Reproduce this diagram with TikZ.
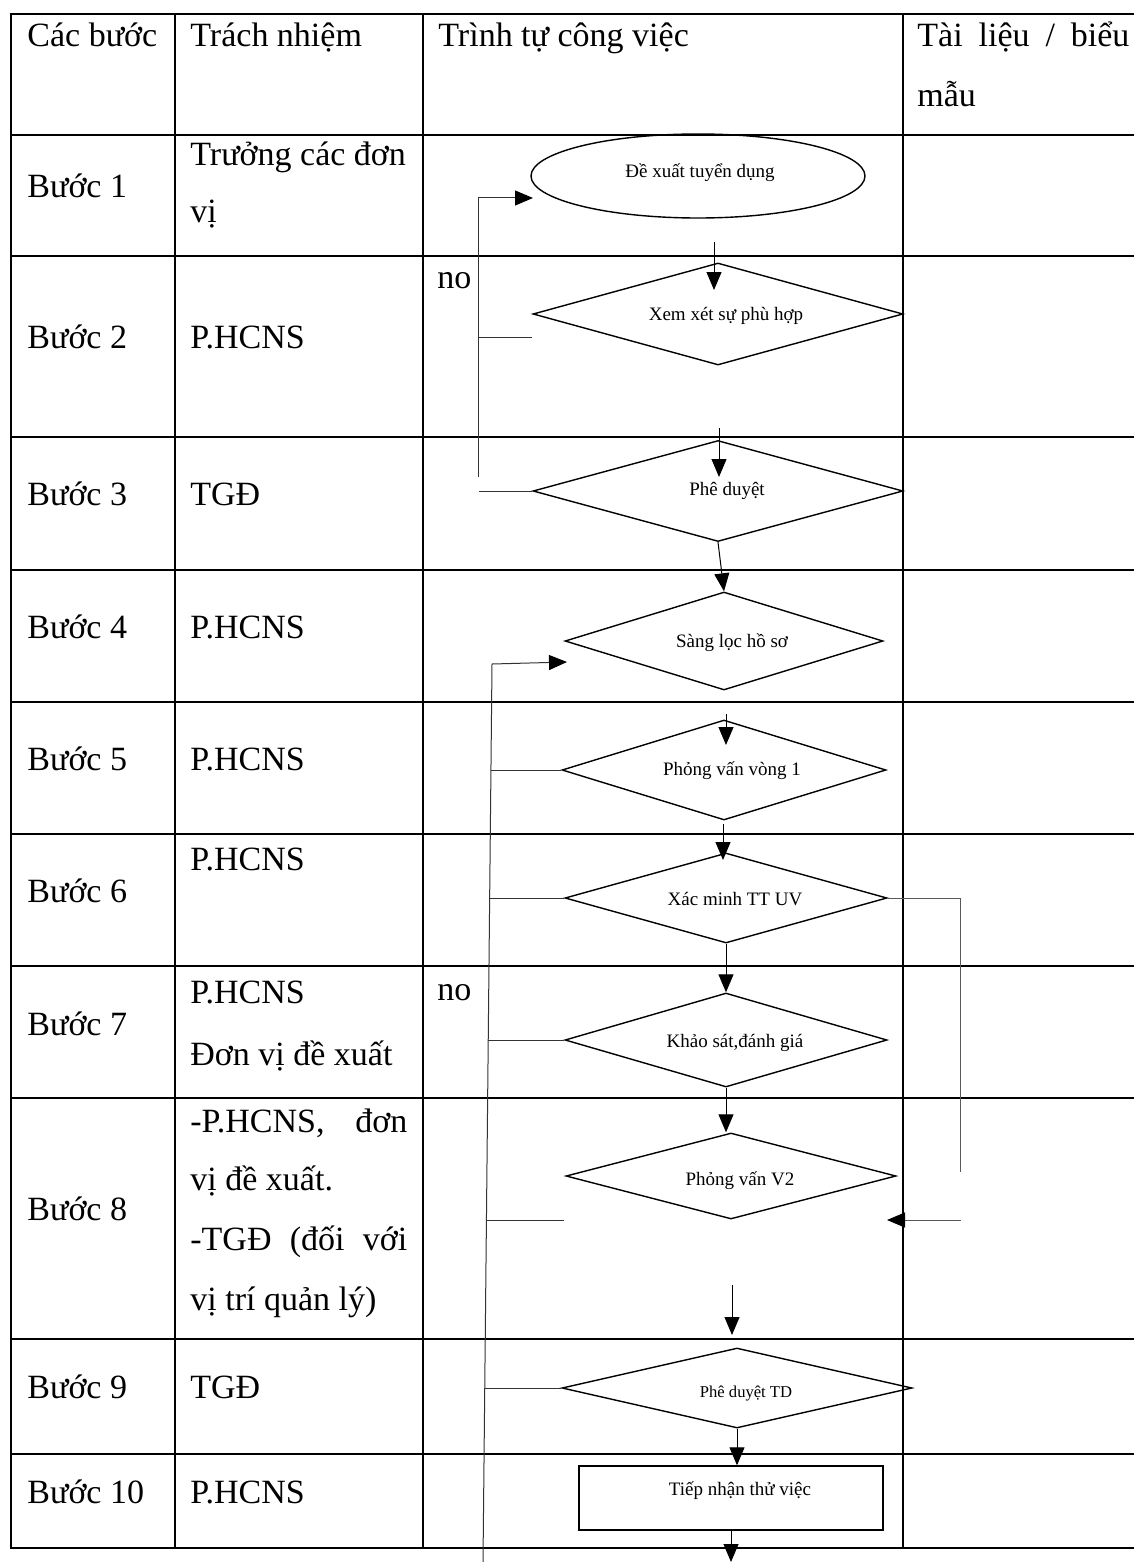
\documentclass[tikz,border=0pt]{standalone}
\usepackage{fontspec}
\setmainfont{Liberation Serif}
\usetikzlibrary{shapes.geometric,arrows.meta}
\begin{document}
\begin{tikzpicture}[x=0.5pt,y=-0.5pt,
  gridline/.style={line width=0.9pt, line cap=rect},
  shapeline/.style={draw, line width=0.7pt},
  dia/.style={shapeline, diamond, inner sep=0pt, aspect=1},
  conn/.style={line width=0.5pt, black!80},
  arr/.style={conn, -{Triangle[length=9pt,width=7.5pt,color=black]}},
  maintext/.style={font=\fontsize{17pt}{20pt}\selectfont, inner sep=0pt, anchor=base west},
  flowtext/.style={font=\fontsize{9.5pt}{11pt}\selectfont, inner sep=0pt, anchor=base},
  smallflow/.style={font=\fontsize{8.3pt}{10pt}\selectfont, inner sep=0pt, anchor=base},
]
\useasboundingbox (0,0) rectangle (1134,1562);
\fill[white] (0,0) rectangle (1134,1562);

% table grid
\foreach \yy in {14,135,256,437,570,702,834,966,1098,1339,1454,1548}
  \draw[gridline] (11,\yy) -- (1140,\yy);
\foreach \xx in {11,175,423,903}
  \draw[gridline] (\xx,14) -- (\xx,1548);

% header
\node[maintext] (h1) at (27,47) {Các bước};
\node[maintext] (h2) at (190,47) {Trách nhiệm};
\node[maintext] (h3) at (438,47) {Trình tự công việc};
\node[maintext] (h4) at (917,47) {\makebox[106pt][s]{Tài liệu / biểu}};
\node[maintext] (h4b) at (917,107) {mẫu};

% steps
\foreach \n/\yy in {1/198,2/348,3/505,4/638,5/770,6/902,7/1035,8/1220,9/1398,10/1503}
  \node[maintext] (s\n) at (27,\yy) {Bước \n};

% responsibilities
\node[maintext] (r1a) at (190,166) {Trưởng các đơn};
\node[maintext] (r1b) at (190,222) {vị};
\node[maintext] (r2) at (190,348) {P.HCNS};
\node[maintext] (r3) at (190,505) {TGĐ};
\node[maintext] (r4) at (190,638) {P.HCNS};
\node[maintext] (r5) at (190,770) {P.HCNS};
\node[maintext] (r6) at (190,870) {P.HCNS};
\node[maintext] (r7a) at (190,1003) {P.HCNS};
\node[maintext] (r7b) at (190,1065) {Đơn vị đề xuất};
\node[maintext] (r8a) at (190,1132) {\makebox[108.5pt][s]{-P.HCNS, đơn}};
\node[maintext] (r8b) at (190,1190) {vị đề xuất.};
\node[maintext] (r8c) at (190,1250) {\makebox[108.5pt][s]{-TGĐ (đối với}};
\node[maintext] (r8d) at (190,1310) {vị trí quản lý)};
\node[maintext] (r9) at (190,1398) {TGĐ};
\node[maintext] (r10) at (190,1503) {P.HCNS};

\node[maintext] (no1) at (437,288) {no};
\node[maintext] (no2) at (437,1000) {no};

% flow shapes
\node[shapeline, ellipse, inner sep=0pt, minimum width=167pt, minimum height=42pt] (e1) at (698,176) {};
\node[flowtext] (t1) at (700,178) {Đề xuất tuyển dụng};

\node[dia, minimum width=185pt, minimum height=51pt] (d2) at (718,314) {};
\node[flowtext] (t2) at (726,320) {Xem xét sự phù hợp};
\node[dia, minimum width=185pt, minimum height=50.5pt] (d3) at (718,491) {};
\node[flowtext] (t3) at (727,495) {Phê duyệt};
\node[dia, minimum width=159pt, minimum height=49pt] (d4) at (724,641) {};
\node[flowtext] (t4) at (732,647) {Sàng lọc hồ sơ};
\node[dia, minimum width=162pt, minimum height=50pt] (d5) at (724,770) {};
\node[flowtext] (t5) at (732,775) {Phỏng vấn vòng 1};
\node[dia, minimum width=161pt, minimum height=45pt] (d6) at (726,898) {};
\node[flowtext] (t6) at (735,905) {Xác minh TT UV};
\node[dia, minimum width=161pt, minimum height=47pt] (d7) at (726,1040) {};
\node[flowtext] (t7) at (735,1047) {Khảo sát,đánh giá};
\node[dia, minimum width=165pt, minimum height=43pt] (d8) at (731,1176) {};
\node[flowtext] (t8) at (740,1185) {Phỏng vấn V2};
\node[dia, minimum width=175pt, minimum height=40pt] (d9) at (737,1388) {};
\node[smallflow] (t9) at (746,1397) {Phê duyệt TD};
\node[shapeline, rectangle, inner sep=0pt, minimum width=152pt, minimum height=32pt] (rc) at (731,1498) {};
\node[flowtext] (t10) at (740,1495) {Tiếp nhận thử việc};

% coordinates for free connector ends
\coordinate (a1s) at (714,242); \coordinate (a1e) at (714,290);
\coordinate (a2s) at (719,428); \coordinate (a2e) at (719,477);
\coordinate (a4s) at (726,714); \coordinate (a4e) at (726,745);
\coordinate (a5s) at (723,824); \coordinate (a5e) at (723,860);
\coordinate (a8s) at (732,1285); \coordinate (a8e) at (732,1335);
\coordinate (a10e) at (731,1562);

% main flow arrows
\draw[arr, black] (a1s) -- (a1e);
\draw[arr, black] (a2s) -- (a2e);
\draw[arr, black] (d3.south) -- (d4.north);
\draw[arr, black] (a4s) -- (a4e);
\draw[arr, black] (a5s) -- (a5e);
\draw[arr, black] (d6.south) -- (d7.north);
\draw[arr, black] (d7.south) -- (d7.south |- d8.north);
\draw[arr, black] (a8s) -- (a8e);
\draw[arr, black] (d9.south) -- (d9.south |- rc.north);
\draw[arr, black] (rc.south) -- (rc.south |- a10e);

% loop 1 (top "no")
\coordinate (l1bot) at (478,477);
\coordinate (l1tip) at (533,198);
\coordinate (l1c) at (478,337); \coordinate (l1ce) at (532,337);
\coordinate (l1d) at (479,491);
\draw[arr] (l1bot) |- (l1tip);
\draw[conn] (l1c) -- (l1ce);
\draw[conn] (l1d) -- (d3.west);

% loop 2 (long left line)
\coordinate (lvtop) at (492,664);
\coordinate (lvbot) at (483,1562);
\coordinate (l2tip) at (567,662);
\draw[arr] (lvbot) -- (lvtop) -- (l2tip);
\coordinate (s5) at (491,770);
\coordinate (s6) at (490,898);
\coordinate (s7) at (488,1040);
\coordinate (s8) at (486,1220); \coordinate (s8e) at (564,1220);
\coordinate (s9) at (485,1388);
\draw[conn] (s5) -- (d5.west);
\draw[conn] (s6) -- (d6.west);
\draw[conn] (s7) -- (d7.west);
\draw[conn] (s8) -- (s8e);
\draw[conn] (s9) -- (d9.west);

% right loop
\coordinate (rl2) at (960,1172);
\coordinate (rl3) at (961,1220); \coordinate (rl4) at (887,1220);
\draw[conn, black!65] (d6.east) -| (rl2);
\draw[arr, black!65] (rl3) -- (rl4);
\end{tikzpicture}
\end{document}
